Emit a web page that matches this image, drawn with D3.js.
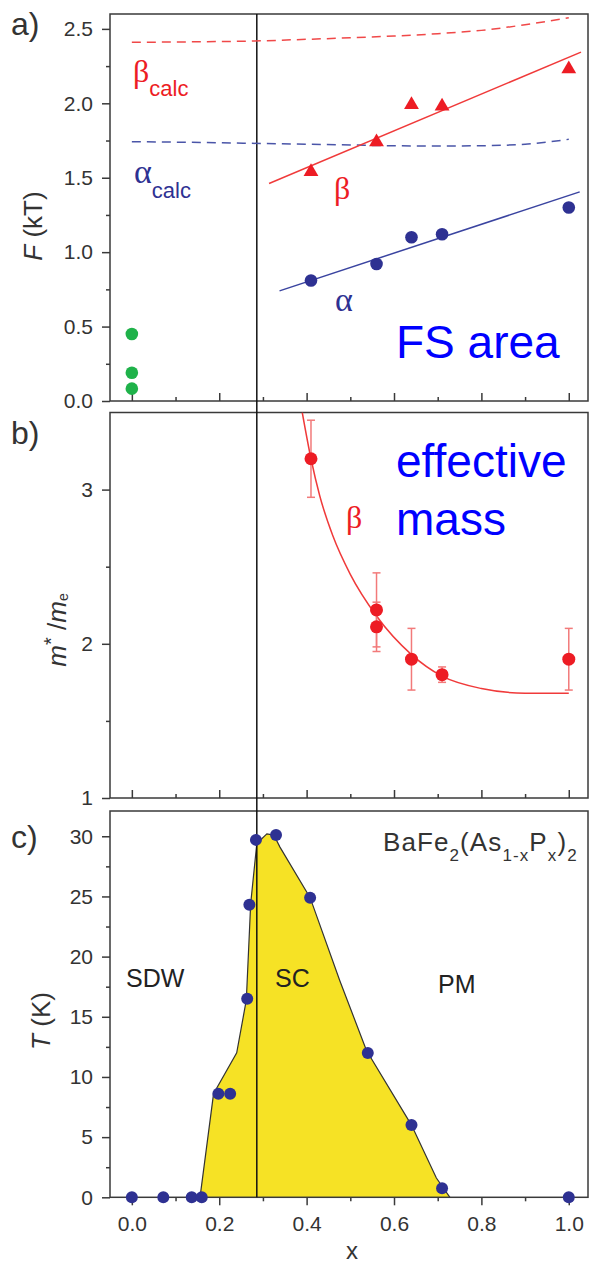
<!DOCTYPE html>
<html>
<head>
<meta charset="utf-8">
<script src="https://cdn.jsdelivr.net/npm/d3@7"></script>
<style>
	body { margin: 0; background: #fff; }
	svg { display: block; font-family: "Liberation Sans", Arial, sans-serif; }
</style>
</head>
<body>
<div id="chart"></div>
<script>
// ---- panel a: FS area (F in kT) ----
const alphaX = [0.41, 0.56, 0.64, 0.71, 1.0];
const alphaF = [0.81, 0.92, 1.10, 1.12, 1.30];
const betaX = [0.41, 0.56, 0.64, 0.71, 1.0];
const betaF = [1.54, 1.74, 1.99, 1.98, 2.23];
const greenX = [0, 0, 0];
const greenF = [0.45, 0.19, 0.083];
const alphaFitX = [0.338, 1.025];
const alphaFitF = [0.74, 1.405];
const betaFitX = [0.314, 1.028];
const betaFitF = [1.461, 2.344];
const calcX = [0, 0.2, 0.3, 0.4, 0.5, 0.6, 0.7, 0.8, 0.9, 1.0];
const betaCalcF = [2.41, 2.415, 2.42, 2.43, 2.44, 2.452, 2.468, 2.49, 2.528, 2.575];
const alphaCalcF = [1.742, 1.735, 1.73, 1.725, 1.72, 1.715, 1.713, 1.715, 1.725, 1.758];

// ---- panel b: effective mass ----
const massX = [0.41, 0.56, 0.56, 0.64, 0.71, 1.0];
const massM = [3.20, 2.22, 2.11, 1.90, 1.80, 1.90];
const massErr = [0.25, 0.24, 0.16, 0.20, 0.05, 0.20];
const massFitX = [0.39, 0.41, 0.43, 0.46, 0.50, 0.56, 0.64, 0.71, 0.80, 0.90, 1.0];
const massFitM = [3.50, 3.20, 2.96, 2.70, 2.45, 2.18, 1.93, 1.79, 1.71, 1.68, 1.68];

// ---- panel c: phase diagram ----
const tcX = [0, 0.072, 0.137, 0.16, 0.198, 0.225, 0.264, 0.269, 0.284, 0.33, 0.408, 0.54, 0.64, 0.71, 1.0];
const tcT = [0, 0, 0, 0, 8.6, 8.6, 16.5, 24.3, 29.7, 30.1, 24.9, 12.0, 6.0, 0.75, 0];
const scX = [0.156, 0.187, 0.24, 0.262, 0.272, 0.286, 0.309, 0.325, 0.339, 0.408, 0.476, 0.537, 0.64, 0.697, 0.728];
const scT = [0, 8.6, 12.0, 16.4, 24.4, 29.4, 30.2, 30.1, 29.1, 24.9, 18.0, 12.2, 6.0, 1.6, 0];

const xMajor = [0, 0.2, 0.4, 0.6, 0.8, 1.0];
const xMinor = [0.1, 0.3, 0.5, 0.7, 0.9];
const yMajorA = [0, 0.5, 1.0, 1.5, 2.0, 2.5];
const yMinorA = [0.25, 0.75, 1.25, 1.75, 2.25];
const yMajorB = [1, 2, 3];
const yMinorB = [1.5, 2.5];
const yMajorC = [0, 5, 10, 15, 20, 25, 30];
const yMinorC = [2.5, 7.5, 12.5, 17.5, 22.5, 27.5];
const xBorder = 0.286;

drawChart();

function drawChart() {
	const W = 592, H = 1266;
	const axisCol = "#3a3a3a", textCol = "#333";
	const red = "#ed1c24", navy = "#2e3192", blue = "#0000ff";

	const svg = d3.select("#chart")
				  .append("svg")
				  .attr("width", W)
				  .attr("height", H);

	const x = d3.scaleLinear().domain([-0.05, 1.044]).range([110, 588]);
	const yA = d3.scaleLinear().domain([0, 2.6]).range([401, 14]);
	const yB = d3.scaleLinear().domain([1, 3.5]).range([798, 412.5]);
	const yC = d3.scaleLinear().domain([0, 32.1]).range([1197.3, 811]);

	function yAxis(y, major, minor, fmt) {
		const g = svg.append("g").attr("transform", "translate(110,0)");
		g.call(d3.axisLeft(y).tickValues(major).tickSize(8).tickPadding(9).tickFormat(fmt));
		g.append("g").call(d3.axisLeft(y).tickValues(minor).tickSize(4).tickFormat(""));
		g.selectAll(".domain").remove();
	}

	// bottom ticks (inside for a, b; outside with labels for c) and the panel frame
	function xAxis(y, outside) {
		const bottom = y.range()[0];
		const g = svg.append("g").attr("transform", `translate(0,${bottom})`);
		g.call(d3.axisBottom(x).tickValues(xMajor).tickSize(outside ? 8 : -8)
				.tickPadding(11).tickFormat(outside ? d3.format(".1f") : ""));
		g.append("g").call(d3.axisBottom(x).tickValues(xMinor).tickSize(outside ? 4 : -4).tickFormat(""));
		g.selectAll(".domain").remove();
		svg.append("rect")
		   .attr("x", x.range()[0])
		   .attr("y", y.range()[1])
		   .attr("width", x.range()[1] - x.range()[0])
		   .attr("height", bottom - y.range()[1])
		   .attr("fill", "none")
		   .attr("stroke", axisCol)
		   .attr("stroke-width", 1.5);
	}

	// ===== panel c fill first (under frame) =====
	svg.append("path")
	   .datum(scX.map((v, i) => [v, scT[i]]))
	   .attr("d", d3.area().x(d => x(d[0])).y0(yC(0)).y1(d => yC(d[1])))
	   .attr("fill", "#f6e225");
	svg.append("path")
	   .datum(scX.map((v, i) => [v, scT[i]]))
	   .attr("d", d3.line().x(d => x(d[0])).y(d => yC(d[1])))
	   .attr("fill", "none")
	   .attr("stroke", "#333")
	   .attr("stroke-width", 1.2);

	xAxis(yA, false);
	xAxis(yB, false);
	xAxis(yC, true);
	yAxis(yA, yMajorA, yMinorA, d3.format(".1f"));
	yAxis(yB, yMajorB, yMinorB, d3.format("d"));
	yAxis(yC, yMajorC, yMinorC, d3.format("d"));

	svg.selectAll(".tick line").attr("stroke", axisCol).attr("stroke-width", 1.5);
	svg.selectAll(".tick text")
	   .attr("fill", textCol)
	   .style("font-size", "21px")
	   .style("font-family", "'Liberation Sans', Arial, sans-serif");

	// vertical SDW/SC border line through all panels
	svg.append("line")
	   .attr("x1", x(xBorder)).attr("x2", x(xBorder))
	   .attr("y1", yA.range()[1]).attr("y2", yC.range()[0])
	   .attr("stroke", "#111")
	   .attr("stroke-width", 1.5);

	// ===== panel a =====
	const lineA = d3.line().x(d => x(d[0])).y(d => yA(d[1]));
	const lineSmooth = d3.line().curve(d3.curveMonotoneX).x(d => x(d[0])).y(d => yA(d[1]));

	svg.append("path")
	   .datum(calcX.map((v, i) => [v, betaCalcF[i]]))
	   .attr("d", lineSmooth)
	   .attr("fill", "none")
	   .attr("stroke", "#f04848")
	   .attr("stroke-width", 1.5)
	   .attr("stroke-dasharray", "9,6");

	svg.append("path")
	   .datum(calcX.map((v, i) => [v, alphaCalcF[i]]))
	   .attr("d", lineSmooth)
	   .attr("fill", "none")
	   .attr("stroke", "#4a55a8")
	   .attr("stroke-width", 1.5)
	   .attr("stroke-dasharray", "9,6");

	svg.append("path")
	   .datum(betaFitX.map((v, i) => [v, betaFitF[i]]))
	   .attr("d", lineA)
	   .attr("stroke", "#f03a3a")
	   .attr("stroke-width", 1.5);

	svg.append("path")
	   .datum(alphaFitX.map((v, i) => [v, alphaFitF[i]]))
	   .attr("d", lineA)
	   .attr("stroke", "#3a44a0")
	   .attr("stroke-width", 1.5);

	svg.append("g")
	   .selectAll("path")
	   .data(betaX.map((v, i) => [v, betaF[i]]))
	   .enter()
	   .append("path")
	   .attr("d", d3.symbol(d3.symbolTriangle).size(95))
	   .attr("transform", d => `translate(${x(d[0])},${yA(d[1])})`)
	   .attr("fill", red);

	svg.append("g")
	   .selectAll("circle")
	   .data(alphaX.map((v, i) => [v, alphaF[i]]))
	   .enter()
	   .append("circle")
	   .attr("cx", d => x(d[0]))
	   .attr("cy", d => yA(d[1]))
	   .attr("r", 6.3)
	   .attr("fill", navy);

	svg.append("g")
	   .selectAll("circle")
	   .data(greenX.map((v, i) => [v, greenF[i]]))
	   .enter()
	   .append("circle")
	   .attr("cx", d => x(d[0]))
	   .attr("cy", d => yA(d[1]))
	   .attr("r", 6.3)
	   .attr("fill", "#1fb24a");

	// labels
	const greek = "'Liberation Serif', 'Times New Roman', serif";
	const bc = svg.append("text").attr("x", 133).attr("y", 82).attr("fill", red);
	bc.append("tspan").style("font-family", greek).style("font-size", "32px").text("β");
	bc.append("tspan").attr("dy", 14).style("font-size", "22px").text("calc");

	const ac = svg.append("text").attr("x", 134).attr("y", 183).attr("fill", navy);
	ac.append("tspan").style("font-family", greek).style("font-size", "34px").text("α");
	ac.append("tspan").attr("dy", 15).style("font-size", "22px").text("calc");

	svg.append("text").attr("x", 334).attr("y", 199).attr("fill", red)
	   .style("font-family", greek).style("font-size", "32px").text("β");
	svg.append("text").attr("x", 335).attr("y", 311).attr("fill", navy)
	   .style("font-family", greek).style("font-size", "34px").text("α");

	svg.append("text").attr("x", 396).attr("y", 358).attr("fill", blue)
	   .style("font-size", "46px").text("FS area");

	// ===== panel b =====
	svg.append("clipPath").attr("id", "clipB")
	   .append("rect")
	   .attr("x", 110).attr("y", yB.range()[1])
	   .attr("width", 478).attr("height", yB.range()[0] - yB.range()[1]);

	svg.append("path")
	   .datum(massFitX.map((v, i) => [v, massFitM[i]]))
	   .attr("clip-path", "url(#clipB)")
	   .attr("d", d3.line().curve(d3.curveMonotoneX).x(d => x(d[0])).y(d => yB(d[1])))
	   .attr("fill", "none")
	   .attr("stroke", "#f03a3a")
	   .attr("stroke-width", 1.5);

	const mass = massX.map((v, i) => ({x: v, m: massM[i], e: massErr[i]}));
	const eb = svg.append("g").attr("stroke", "#f27a7a").attr("stroke-width", 1.5);
	mass.forEach(d => {
		eb.append("line")
		  .attr("x1", x(d.x)).attr("x2", x(d.x))
		  .attr("y1", yB(d.m - d.e)).attr("y2", yB(d.m + d.e));
		[d.m - d.e, d.m + d.e].forEach(v => {
			eb.append("line")
			  .attr("x1", x(d.x) - 4).attr("x2", x(d.x) + 4)
			  .attr("y1", yB(v)).attr("y2", yB(v));
		});
	});

	svg.append("g")
	   .selectAll("circle")
	   .data(mass)
	   .enter()
	   .append("circle")
	   .attr("cx", d => x(d.x))
	   .attr("cy", d => yB(d.m))
	   .attr("r", 6.5)
	   .attr("fill", red);

	svg.append("text").attr("x", 346).attr("y", 528).attr("fill", red)
	   .style("font-family", greek).style("font-size", "32px").text("β");

	svg.append("text").attr("x", 396).attr("y", 477).attr("fill", blue)
	   .style("font-size", "46px").text("effective");
	svg.append("text").attr("x", 396).attr("y", 535).attr("fill", blue)
	   .style("font-size", "46px").text("mass");

	// ===== panel c =====
	svg.append("g")
	   .selectAll("circle")
	   .data(tcX.map((v, i) => [v, tcT[i]]))
	   .enter()
	   .append("circle")
	   .attr("cx", d => x(d[0]))
	   .attr("cy", d => yC(d[1]))
	   .attr("r", 6)
	   .attr("fill", navy);

	const phase = [["SDW", 126, 987], ["SC", 275, 987], ["PM", 438, 993]];
	phase.forEach(p => {
		svg.append("text").attr("x", p[1]).attr("y", p[2]).attr("fill", "#222")
		   .style("font-size", "25px").text(p[0]);
	});

	const formula = svg.append("text").attr("x", 383).attr("y", 851).attr("fill", "#333")
					   .style("font-size", "26px").style("letter-spacing", "1.1px");
	const parts = [["BaFe", 0], ["2", 1], ["(As", 0], ["1-x", 1], ["P", 0], ["x", 1], [")", 0], ["2", 1]];
	let sub = false;
	parts.forEach(p => {
		const t = formula.append("tspan").text(p[0]);
		if (p[1]) t.style("font-size", "17px");
		if (p[1] && !sub) { t.attr("dy", 10); sub = true; }
		else if (!p[1] && sub) { t.attr("dy", -10); sub = false; }
	});

	// ===== axis titles & panel letters =====
	const ft = svg.append("text").attr("transform", "translate(42,226) rotate(-90)")
				  .attr("text-anchor", "middle").attr("fill", textCol).style("font-size", "26px");
	ft.append("tspan").style("font-style", "italic").text("F");
	ft.append("tspan").text(" (kT)");

	const mt = svg.append("text").attr("transform", "translate(66,630) rotate(-90)")
				  .attr("text-anchor", "middle").attr("fill", textCol).style("font-size", "26px");
	mt.append("tspan").style("font-style", "italic").text("m");
	mt.append("tspan").attr("dy", -8).style("font-size", "20px").text("*");
	mt.append("tspan").attr("dy", 8).text(" /");
	mt.append("tspan").style("font-style", "italic").text("m");
	mt.append("tspan").attr("dy", 2).style("font-size", "14px").text("e");

	const tt = svg.append("text").attr("transform", "translate(50,1021) rotate(-90)")
				  .attr("text-anchor", "middle").attr("fill", textCol).style("font-size", "26px");
	tt.append("tspan").style("font-style", "italic").text("T");
	tt.append("tspan").text(" (K)");

	svg.append("text").attr("x", 352).attr("y", 1259).attr("text-anchor", "middle")
	   .attr("fill", textCol).style("font-size", "24px").text("x");

	[["a)", 35], ["b)", 444], ["c)", 848]].forEach(l => {
		svg.append("text").attr("x", 11).attr("y", l[1]).attr("fill", textCol)
		   .style("font-size", "32px").text(l[0]);
	});
}
</script>
</body>
</html>
